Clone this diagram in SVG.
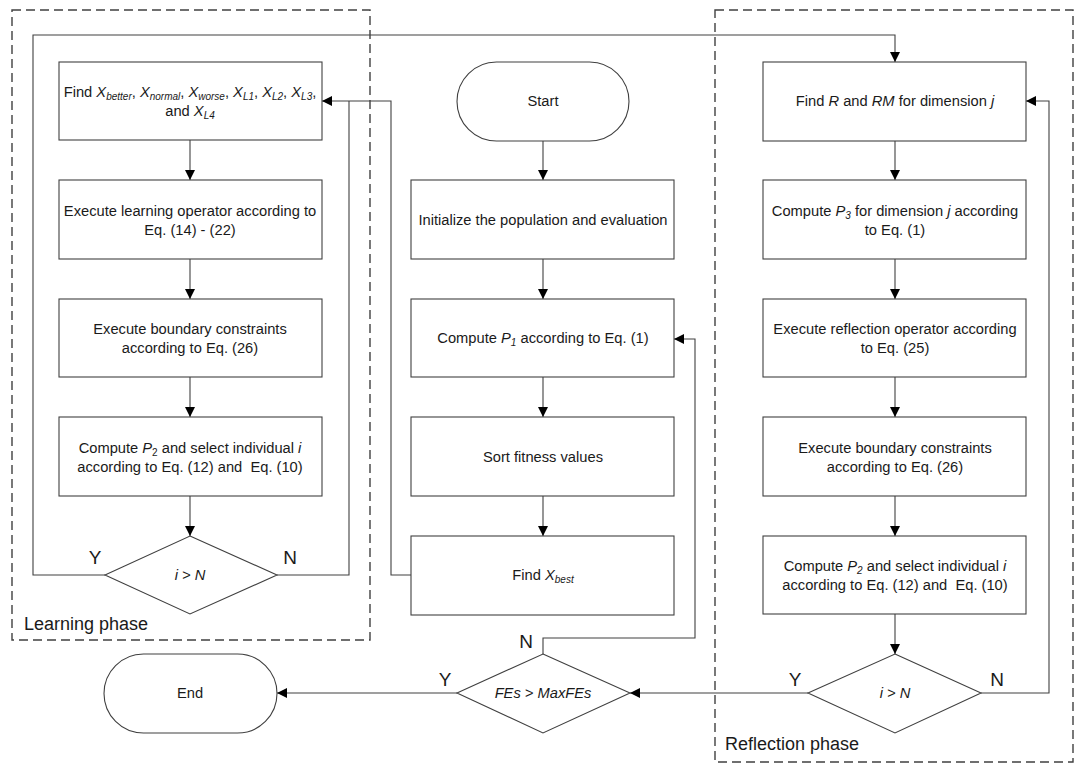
<svg xmlns="http://www.w3.org/2000/svg" width="1080" height="772" viewBox="0 0 1080 772">
<style>
.b{fill:#fff;stroke:#404040;stroke-width:1.1}
.t{font-family:"Liberation Sans",Arial,sans-serif;font-size:14.7px;fill:#1a1a1a;text-anchor:middle;white-space:pre}
.i{font-style:italic}
.s{font-size:10px;font-style:italic}
.lbl{font-family:"Liberation Sans",Arial,sans-serif;font-size:19px;fill:#1a1a1a;text-anchor:middle}
.ph{font-family:"Liberation Sans",Arial,sans-serif;font-size:18px;fill:#1a1a1a}
.c{fill:none;stroke:#404040;stroke-width:1.1}
.a{marker-end:url(#ah)}
.d{fill:none;stroke:#404040;stroke-width:1.4;stroke-dasharray:9 5}
</style>
<defs>
<marker id="ah" viewBox="0 0 10 10" refX="10" refY="5" markerWidth="10" markerHeight="10" markerUnits="userSpaceOnUse" orient="auto">
<path d="M0,0 L10,5 L0,10 Z" fill="#000"/>
</marker>
</defs>
<rect width="1080" height="772" fill="#fff"/>
<g id="phases">
<rect class="d" x="12" y="10" width="358" height="630"/>
<text class="ph" x="24" y="630">Learning phase</text>
<rect class="d" x="715" y="10" width="358" height="752"/>
<text class="ph" x="725" y="750">Reflection phase</text>
</g>
<g id="connectors">
<path class="c a" d="M190,140 V180"/>
<path class="c a" d="M190,259 V299"/>
<path class="c a" d="M190,377 V417"/>
<path class="c a" d="M190,496 V536"/>
<path class="c a" d="M105,575 H33 V35 H895 V62"/>
<path class="c" d="M277,575 H349 V101"/>
<path class="c a" d="M411,575 H391 V101 H322"/>
<path class="c a" d="M543,141 V180"/>
<path class="c a" d="M543,259 V299"/>
<path class="c a" d="M543,377 V417"/>
<path class="c a" d="M543,496 V536"/>
<path class="c a" d="M543,654 V638 H695 V339 H674"/>
<path class="c a" d="M457,693 H277"/>
<path class="c a" d="M895,141 V180"/>
<path class="c a" d="M895,259 V299"/>
<path class="c a" d="M895,377 V417"/>
<path class="c a" d="M895,496 V536"/>
<path class="c a" d="M895,614 V654"/>
<path class="c a" d="M981,693 H1049 V101 H1026"/>
<path class="c a" d="M808,693 H630"/>
<text class="lbl" x="95" y="564">Y</text>
<text class="lbl" x="290" y="564">N</text>
<text class="lbl" x="795" y="686">Y</text>
<text class="lbl" x="997" y="686">N</text>
<text class="lbl" x="445" y="686">Y</text>
<text class="lbl" x="526" y="648">N</text>
</g>
<g id="L1">
<rect class="b" x="59" y="62" width="263" height="78"/>
<text class="t" x="190" y="97">Find <tspan class="i">X</tspan><tspan class="s" dy="3">better</tspan><tspan dy="-3">, </tspan><tspan class="i">X</tspan><tspan class="s" dy="3">normal</tspan><tspan dy="-3">, </tspan><tspan class="i">X</tspan><tspan class="s" dy="3">worse</tspan><tspan dy="-3">, </tspan><tspan class="i">X</tspan><tspan class="s" dy="3">L1</tspan><tspan dy="-3">, </tspan><tspan class="i">X</tspan><tspan class="s" dy="3">L2</tspan><tspan dy="-3">, </tspan><tspan class="i">X</tspan><tspan class="s" dy="3">L3</tspan><tspan dy="-3">,</tspan></text>
<text class="t" x="190" y="116">and <tspan class="i">X</tspan><tspan class="s" dy="3">L4</tspan></text>
</g>
<g id="L2">
<rect class="b" x="59" y="180" width="263" height="79"/>
<text class="t" x="190" y="216">Execute learning operator according to</text>
<text class="t" x="190" y="235">Eq. (14) - (22)</text>
</g>
<g id="L3">
<rect class="b" x="59" y="299" width="263" height="78"/>
<text class="t" x="190" y="334">Execute boundary constraints</text>
<text class="t" x="190" y="353">according to Eq. (26)</text>
</g>
<g id="L4">
<rect class="b" x="59" y="417" width="263" height="79"/>
<text class="t" x="190" y="453">Compute <tspan class="i">P</tspan><tspan font-size="10" dy="3">2</tspan><tspan dy="-3"> and select individual </tspan><tspan class="i">i</tspan></text>
<text class="t" x="190" y="472">according to Eq. (12) and  Eq. (10)</text>
</g>
<g id="L5">
<path class="b" d="M190,536 L277,575 L190,614 L105,575 Z"/>
<text class="t i" x="190" y="580">i &gt; N</text>
</g>
<g id="start">
<rect class="b" x="457" y="62" width="172" height="79" rx="39.5" ry="39.5"/>
<text class="t" x="543" y="106">Start</text>
</g>
<g id="C1">
<rect class="b" x="411" y="180" width="263" height="79"/>
<text class="t" x="543" y="225">Initialize the population and evaluation</text>
</g>
<g id="C2">
<rect class="b" x="411" y="299" width="263" height="78"/>
<text class="t" x="543" y="343">Compute <tspan class="i">P</tspan><tspan class="s" dy="3">1</tspan><tspan dy="-3"> according to Eq. (1)</tspan></text>
</g>
<g id="C3">
<rect class="b" x="411" y="417" width="263" height="79"/>
<text class="t" x="543" y="462">Sort fitness values</text>
</g>
<g id="C4">
<rect class="b" x="411" y="536" width="263" height="79"/>
<text class="t" x="543" y="580">Find <tspan class="i">X</tspan><tspan class="s" dy="3">best</tspan></text>
</g>
<g id="C5">
<path class="b" d="M543,654 L630,693 L543,733 L457,693 Z"/>
<text class="t i" x="543" y="698">FEs &gt; MaxFEs</text>
</g>
<g id="end">
<rect class="b" x="104" y="654" width="173" height="79" rx="39.5" ry="39.5"/>
<text class="t" x="190" y="698">End</text>
</g>
<g id="R1">
<rect class="b" x="763" y="62" width="263" height="79"/>
<text class="t" x="895" y="106">Find <tspan class="i">R</tspan> and <tspan class="i">RM</tspan> for dimension <tspan class="i">j</tspan></text>
</g>
<g id="R2">
<rect class="b" x="763" y="180" width="263" height="79"/>
<text class="t" x="895" y="216">Compute <tspan class="i">P</tspan><tspan class="s" dy="3">3</tspan><tspan dy="-3"> for dimension </tspan><tspan class="i">j</tspan> according</text>
<text class="t" x="895" y="235">to Eq. (1)</text>
</g>
<g id="R3">
<rect class="b" x="763" y="299" width="263" height="78"/>
<text class="t" x="895" y="334">Execute reflection operator according</text>
<text class="t" x="895" y="353">to Eq. (25)</text>
</g>
<g id="R4">
<rect class="b" x="763" y="417" width="263" height="79"/>
<text class="t" x="895" y="453">Execute boundary constraints</text>
<text class="t" x="895" y="472">according to Eq. (26)</text>
</g>
<g id="R5">
<rect class="b" x="763" y="536" width="263" height="78"/>
<text class="t" x="895" y="571">Compute <tspan class="i">P</tspan><tspan font-size="10" class="i" dy="3">2</tspan><tspan dy="-3"> and select individual </tspan><tspan class="i">i</tspan></text>
<text class="t" x="895" y="590">according to Eq. (12) and  Eq. (10)</text>
</g>
<g id="R6">
<path class="b" d="M895,654 L981,693 L895,733 L808,693 Z"/>
<text class="t i" x="895" y="698">i &gt; N</text>
</g>
</svg>
